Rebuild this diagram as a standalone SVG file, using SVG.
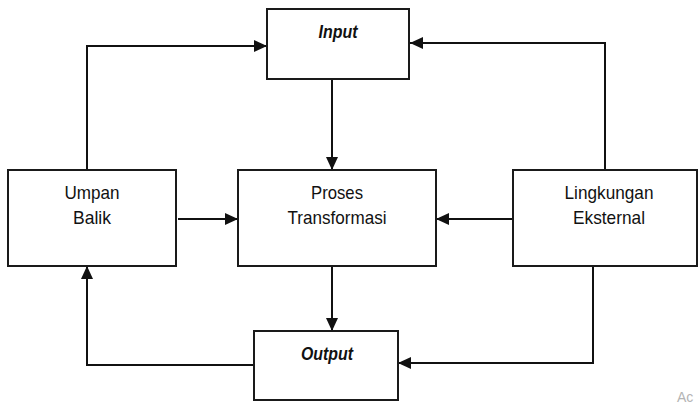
<svg xmlns="http://www.w3.org/2000/svg" width="699" height="405" viewBox="0 0 699 405">
  <style>
    .box { fill: #ffffff; stroke: #1a1a1a; stroke-width: 2; }
    .lbl { font-family: "Liberation Sans", Arial, sans-serif; font-size: 19px; fill: #111111; text-anchor: middle; }
    .key { font-family: "Liberation Sans", Arial, sans-serif; font-size: 18px; font-weight: bold; font-style: italic; fill: #111111; text-anchor: middle; }
    .wire { fill: none; stroke: #111111; stroke-width: 2; }
    .mark { font-family: "Liberation Sans", Arial, sans-serif; font-size: 14px; fill: #b4b4b4; }
  </style>
  <defs>
    <marker id="arrow" markerUnits="userSpaceOnUse" markerWidth="14" markerHeight="13" refX="13" refY="6" orient="auto">
      <path d="M0,0 L13,6 L0,12 z" fill="#111111"/>
    </marker>
  </defs>
  <rect width="699" height="405" fill="#ffffff"/>

  <!-- connectors -->
  <g id="connectors">
    <!-- Input -> Proses -->
    <path class="wire" d="M332,79 V170" marker-end="url(#arrow)"/>
    <!-- Proses -> Output -->
    <path class="wire" d="M332,266 V331" marker-end="url(#arrow)"/>
    <!-- Umpan Balik -> Input -->
    <path class="wire" d="M87,170 V46 H267" marker-end="url(#arrow)"/>
    <!-- Lingkungan -> Input -->
    <path class="wire" d="M605,170 V43 H410" marker-end="url(#arrow)"/>
    <!-- Umpan Balik -> Proses -->
    <path class="wire" d="M178,219 H238" marker-end="url(#arrow)"/>
    <!-- Lingkungan -> Proses -->
    <path class="wire" d="M513,219 H436" marker-end="url(#arrow)"/>
    <!-- Output -> Umpan Balik -->
    <path class="wire" d="M254,365 H87 V266" marker-end="url(#arrow)"/>
    <!-- Lingkungan -> Output -->
    <path class="wire" d="M593,266 V363 H398" marker-end="url(#arrow)"/>
  </g>

  <g id="input">
    <rect class="box" x="267" y="9" width="142" height="70"/>
    <text class="key" x="338" y="38" textLength="39" lengthAdjust="spacingAndGlyphs">Input</text>
  </g>

  <g id="umpan-balik">
    <rect class="box" x="8" y="170" width="168" height="96"/>
    <text class="lbl" x="92" y="199" textLength="55" lengthAdjust="spacingAndGlyphs">Umpan</text>
    <text class="lbl" x="92" y="224" textLength="38" lengthAdjust="spacingAndGlyphs">Balik</text>
  </g>

  <g id="proses-transformasi">
    <rect class="box" x="238" y="170" width="198" height="96"/>
    <text class="lbl" x="337" y="199" textLength="52" lengthAdjust="spacingAndGlyphs">Proses</text>
    <text class="lbl" x="337" y="224" textLength="99" lengthAdjust="spacingAndGlyphs">Transformasi</text>
  </g>

  <g id="lingkungan-eksternal">
    <rect class="box" x="513" y="170" width="184" height="96"/>
    <text class="lbl" x="609" y="199" textLength="89" lengthAdjust="spacingAndGlyphs">Lingkungan</text>
    <text class="lbl" x="609" y="224" textLength="72" lengthAdjust="spacingAndGlyphs">Eksternal</text>
  </g>

  <g id="output">
    <rect class="box" x="254" y="331" width="144" height="69"/>
    <text class="key" x="327" y="360" textLength="52" lengthAdjust="spacingAndGlyphs">Output</text>
  </g>

  <text class="mark" x="677" y="402">Ac</text>
</svg>
